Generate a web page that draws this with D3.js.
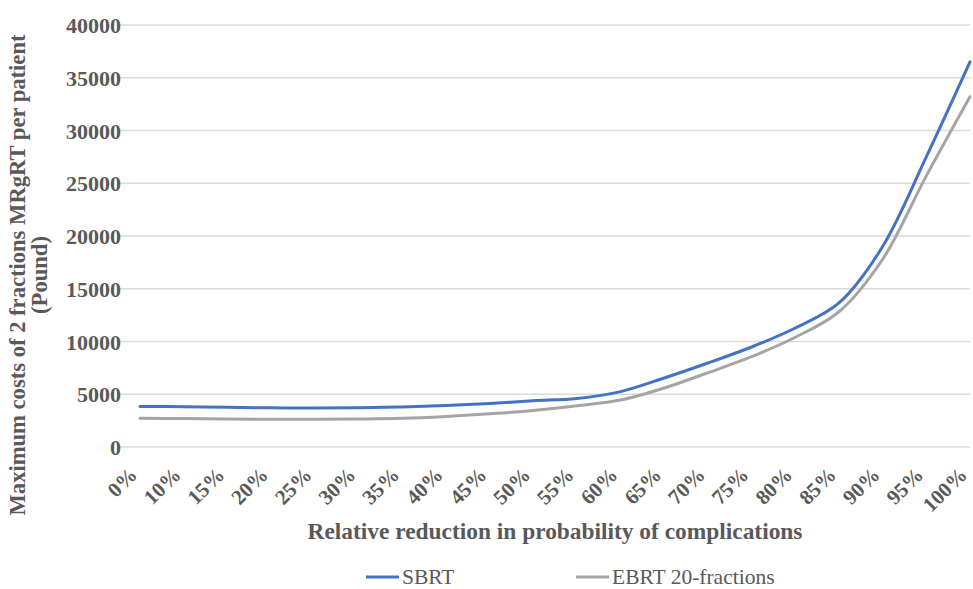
<!DOCTYPE html>
<html>
<head>
<meta charset="utf-8">
<script src="https://cdn.jsdelivr.net/npm/d3@7"></script>
<style>
  html, body { margin: 0; padding: 0; background: #fff; }
  svg { display: block; }
  text { font-family: "Liberation Serif", "Times New Roman", "DejaVu Serif", serif; }
</style>
</head>
<body>
<svg id="chart" width="973" height="589"></svg>
<script>
// Reduction in probability of complications (category axis)
const categories = ["0%", "10%", "15%", "20%", "25%", "30%", "35%", "40%", "45%", "50%",
                    "55%", "60%", "65%", "70%", "75%", "80%", "85%", "90%", "95%", "100%"];

// Maximum cost per patient (Pound)
const sbrt = [3840, 3820, 3760, 3710, 3700, 3720, 3800, 3930, 4120, 4380,
              4600, 5250, 6540, 7960, 9480, 11280, 13650, 19000, 27500, 36500];
const ebrt = [2720, 2700, 2660, 2630, 2620, 2650, 2720, 2900, 3150, 3450,
              3900, 4450, 5590, 7040, 8560, 10400, 12820, 17800, 25700, 33200];

const yTicks = [0, 5000, 10000, 15000, 20000, 25000, 30000, 35000, 40000];

const series = [
  { name: "SBRT", values: sbrt, color: "#4472C4" },
  { name: "EBRT 20-fractions", values: ebrt, color: "#A5A5A5" }
];

const svg = d3.select("#chart");
const plot = { left: 140, right: 970, top: 25, bottom: 447 };
const textColor = "#595959";

const x = d3.scalePoint().domain(categories).range([plot.left, plot.right]);
const y = d3.scaleLinear().domain([0, 40000]).range([plot.bottom, plot.top]);

// Horizontal gridlines
svg.append("g")
  .selectAll("line")
  .data(yTicks)
  .join("line")
  .attr("x1", plot.left - 20)
  .attr("x2", plot.right)
  .attr("y1", d => y(d))
  .attr("y2", d => y(d))
  .attr("stroke", "#D9D9D9")
  .attr("stroke-width", 1.3);

// Y axis labels
const yAxis = svg.append("g")
  .attr("transform", `translate(${plot.left - 19},0)`)
  .call(d3.axisLeft(y).tickValues(yTicks).tickSize(0).tickPadding(0).tickFormat(d3.format("d")));
yAxis.select(".domain").remove();
yAxis.selectAll("text")
  .attr("fill", textColor)
  .style("font-size", "22px")
  .style("font-weight", "bold")
  .attr("dy", "0.35em");

// X axis labels, rotated about their end point
const xAxis = svg.append("g")
  .attr("transform", `translate(0,${plot.bottom + 27})`)
  .call(d3.axisBottom(x).tickSize(0).tickPadding(0));
xAxis.select(".domain").remove();
xAxis.selectAll("text")
  .attr("fill", textColor)
  .style("font-size", "21px")
  .style("font-weight", "bold")
  .attr("text-anchor", "end")
  .attr("x", -3)
  .attr("y", 0)
  .attr("dy", 0)
  .attr("transform", "rotate(-45)");

// Smoothed series lines
const line = d3.line()
  .x((d, i) => x(categories[i]))
  .y(d => y(d))
  .curve(d3.curveCatmullRom.alpha(0.5));

svg.append("g")
  .selectAll("path")
  .data(series.slice().reverse())
  .join("path")
  .attr("d", s => line(s.values))
  .attr("fill", "none")
  .attr("stroke", s => s.color)
  .attr("stroke-width", 3)
  .attr("stroke-linejoin", "round")
  .attr("stroke-linecap", "round");

// Axis titles
svg.append("text")
  .attr("x", 555)
  .attr("y", 539)
  .attr("text-anchor", "middle")
  .attr("fill", textColor)
  .style("font-size", "23.4px")
  .style("font-weight", "bold")
  .text("Relative reduction in probability of complications");

const yTitle = svg.append("text")
  .attr("transform", "translate(25,275) rotate(-90)")
  .attr("text-anchor", "middle")
  .attr("fill", textColor)
  .style("font-size", "22.6px")
  .style("font-weight", "bold");
yTitle.append("tspan").attr("x", 0).attr("y", 0).text("Maximum costs of 2 fractions MRgRT per patient");
yTitle.append("tspan").attr("x", 0).attr("y", 22).text("(Pound)");

// Legend
const legendPos = [366, 576];
const legend = svg.append("g")
  .selectAll("g")
  .data(series)
  .join("g")
  .attr("transform", (d, i) => `translate(${legendPos[i]},576)`);
legend.append("line")
  .attr("x1", 0).attr("x2", 33)
  .attr("y1", 1).attr("y2", 1)
  .attr("stroke", d => d.color)
  .attr("stroke-width", 3);
legend.append("text")
  .attr("x", 36)
  .attr("y", 0)
  .attr("dy", "0.35em")
  .attr("fill", textColor)
  .style("font-size", "21.5px")
  .text(d => d.name);
</script>
</body>
</html>
